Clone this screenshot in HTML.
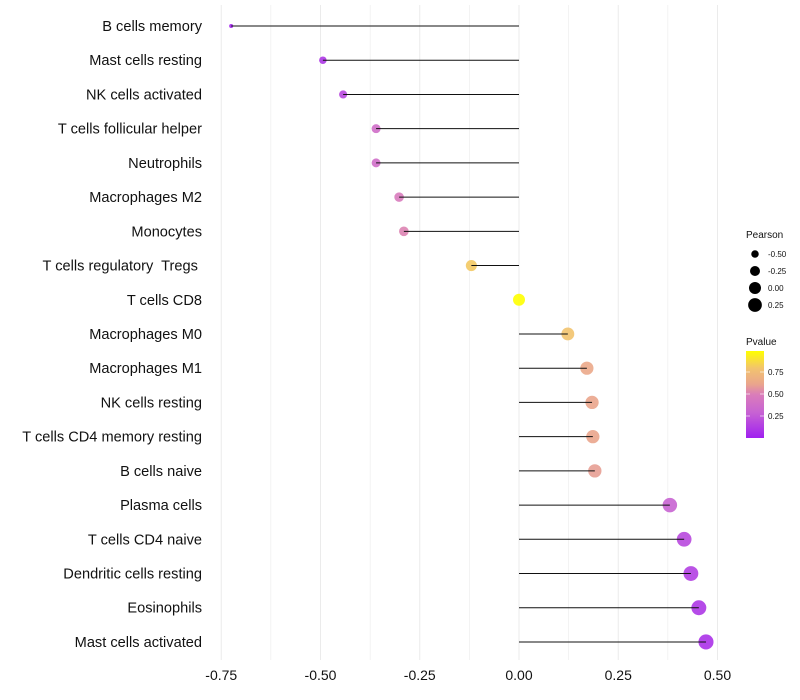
<!DOCTYPE html>
<html><head><meta charset="utf-8"><style>
body{margin:0;background:#fff}
svg{display:block;font-family:"Liberation Sans",sans-serif}
</style></head><body>
<svg id="chart" width="800" height="700"></svg>
<script>
const categories=["B cells memory","Mast cells resting","NK cells activated","T cells follicular helper","Neutrophils","Macrophages M2","Monocytes","T cells regulatory  Tregs ","T cells CD8","Macrophages M0","Macrophages M1","NK cells resting","T cells CD4 memory resting","B cells naive","Plasma cells","T cells CD4 naive","Dendritic cells resting","Eosinophils","Mast cells activated"];
const pearson=[-0.725,-0.494,-0.443,-0.36,-0.36,-0.302,-0.29,-0.12,0.0,0.123,0.171,0.184,0.186,0.191,0.38,0.416,0.433,0.453,0.471];
const pvalues=[0.02,0.1,0.18,0.38,0.38,0.48,0.52,0.82,1.0,0.8,0.64,0.62,0.62,0.6,0.3,0.18,0.14,0.1,0.08];
const xTicks=[-0.75,-0.5,-0.25,0,0.25,0.5];
const xTickLabels=["-0.75","-0.50","-0.25","0.00","0.25","0.50"];
const sizeLegend=[-0.5,-0.25,0,0.25];
const sizeLegendLabels=["-0.50","-0.25","0.00","0.25"];
const colorTicks=[0.75,0.5,0.25];

const svg=document.getElementById('chart');
const NS="http://www.w3.org/2000/svg";
const x=v=>519+v*397;
const y=i=>26+i*34.22;
const rad=v=>Math.sqrt(Math.max(3,36+44*v));
function col(p){
  const stops=[[0,[160,32,240]],[0.3,[200,100,210]],[0.5,[218,125,185]],[0.62,[234,165,140]],[0.8,[242,195,110]],[1,[255,255,0]]];
  for(let k=1;k<stops.length;k++){if(p<=stops[k][0]){const a=stops[k-1],b=stops[k];const t=(p-a[0])/(b[0]-a[0]);return 'rgb('+a[1].map((c,j)=>Math.round(c+(b[1][j]-c)*t)).join(',')+')';}}
  return 'rgb(255,255,0)';
}
function mk(tag,attrs,parent){const e=document.createElementNS(NS,tag);for(const k in attrs)e.setAttribute(k,attrs[k]);(parent||svg).appendChild(e);return e;}

for(let v=-0.75;v<=0.501;v+=0.125){
  const g=mk('line',{x1:x(v),x2:x(v),y1:5,y2:660,stroke:'#ebebeb','stroke-width':Math.abs((v*4)%1)<0.01?1:0.6});
  
  
}
xTicks.forEach((v,i)=>{
  const t=mk('text',{x:x(v),y:680,'text-anchor':'middle','font-size':14,fill:'#111'});
  t.textContent=xTickLabels[i];
  
  
});
categories.forEach((c,i)=>{
  const t=mk('text',{x:202,y:y(i)+5,'text-anchor':'end','font-size':14.6,fill:'#111','xml:space':'preserve'});
  t.style.whiteSpace='pre';
  t.textContent=c;
  
  
  const p=mk('circle',{cx:x(pearson[i]),cy:y(i),r:rad(pearson[i]),fill:col(pvalues[i]),'fill-opacity':0.9});
  
  
  const l=mk('line',{x1:x(0),x2:x(pearson[i]),y1:y(i),y2:y(i),stroke:'#111','stroke-width':1});
  
  
});
const lt=mk('text',{x:746,y:238,'font-size':10,fill:'#111'});lt.textContent='Pearson';


sizeLegend.forEach((v,i)=>{
  const cy=254+i*17;
  const c=mk('circle',{cx:755,cy:cy,r:rad(v),fill:'#000'});
  
  
  const t=mk('text',{x:768,y:cy+3,'font-size':8,fill:'#111'});t.textContent=sizeLegendLabels[i];
  
  
});
const ct=mk('text',{x:746,y:345,'font-size':10,fill:'#111'});ct.textContent='Pvalue';


const defs=mk('defs',{});
const lg=mk('linearGradient',{id:'pg',x1:0,y1:1,x2:0,y2:0},defs);
[0,0.15,0.3,0.5,0.62,0.8,0.9,1].forEach(p=>mk('stop',{offset:p,'stop-color':col(p)},lg));
const bar=mk('rect',{x:746,y:351,width:18,height:87,fill:'url(#pg)'});


colorTicks.forEach(v=>{
  const cy=438-v*88;
  mk('line',{x1:746,x2:750,y1:cy,y2:cy,stroke:'#fff','stroke-width':0.6});
  mk('line',{x1:760,x2:764,y1:cy,y2:cy,stroke:'#fff','stroke-width':0.6});
  const t=mk('text',{x:768,y:cy+3,'font-size':8,fill:'#111'});t.textContent=v.toFixed(2);
  
  
});
</script>
</body></html>
